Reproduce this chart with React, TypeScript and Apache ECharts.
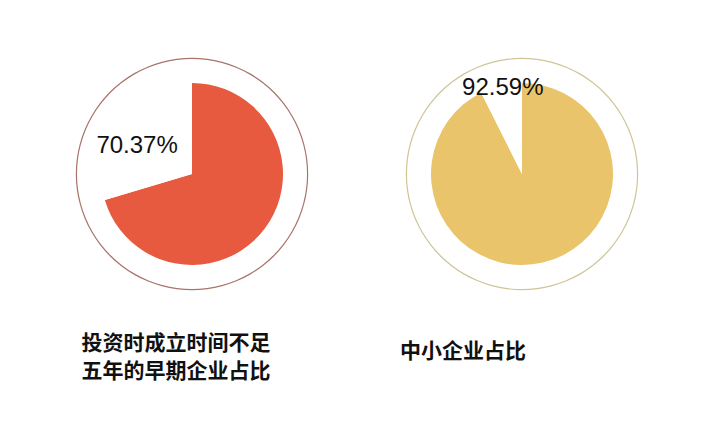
import React, { useEffect, useRef } from "react";
import * as echarts from "echarts";

const titles = ["投资时成立时间不足\n五年的早期企业占比", "中小企业占比"];
const shares = [70.37, 92.59];
const fillColors = ["#E85A40", "#EAC46B"];
const ringColors = ["#A8736A", "#CFC597"];

export default function App() {
  const ref = useRef<HTMLDivElement>(null);
  useEffect(() => {
    if (!ref.current) return;
    const chart = echarts.init(ref.current, null, { renderer: "svg" });
    const centers = [
      [192, 174],
      [522, 174],
    ];
    const labelOffsets = [
      [-16, -1],
      [-8, -40],
    ];
    const titleLeft = [176, 463];
    const titleTop = [327, 335];
    const series: any[] = [];
    shares.forEach((v, i) => {
      series.push({
        type: "pie",
        center: centers[i],
        radius: [115, 116.2],
        silent: true,
        label: { show: false },
        labelLine: { show: false },
        itemStyle: { color: ringColors[i] },
        data: [{ value: 1 }],
      });
      series.push({
        type: "pie",
        center: centers[i],
        radius: [0, 91],
        startAngle: 90,
        clockwise: true,
        silent: true,
        labelLine: { show: false },
        data: [
          { value: v, itemStyle: { color: fillColors[i] }, label: { show: false } },
          {
            value: +(100 - v).toFixed(2),
            itemStyle: { color: "#FFFFFF" },
            label: {
              show: true,
              position: "inside",
              formatter: () => `${v.toFixed(2)}%`,
              fontFamily: "Arial, 'Liberation Sans', sans-serif",
              fontSize: 24,
              color: "#111111",
              offset: labelOffsets[i],
            },
          },
        ],
      });
    });
    chart.setOption({
      animation: false,
      backgroundColor: "#FFFFFF",
      title: titles.map((t, i) => ({
        text: t,
        left: titleLeft[i],
        top: titleTop[i],
        textAlign: "center",
        padding: 0,
        textStyle: {
          fontFamily: "'Noto Sans CJK SC', sans-serif",
          fontWeight: "bold",
          fontSize: 21,
          lineHeight: 28,
          color: "#111111",
        },
      })),
      series,
    });
    return () => chart.dispose();
  }, []);
  return (
    <div
      ref={ref}
      style={{ position: "fixed", left: 0, top: 0, width: 706, height: 441, background: "#fff" }}
    />
  );
}
